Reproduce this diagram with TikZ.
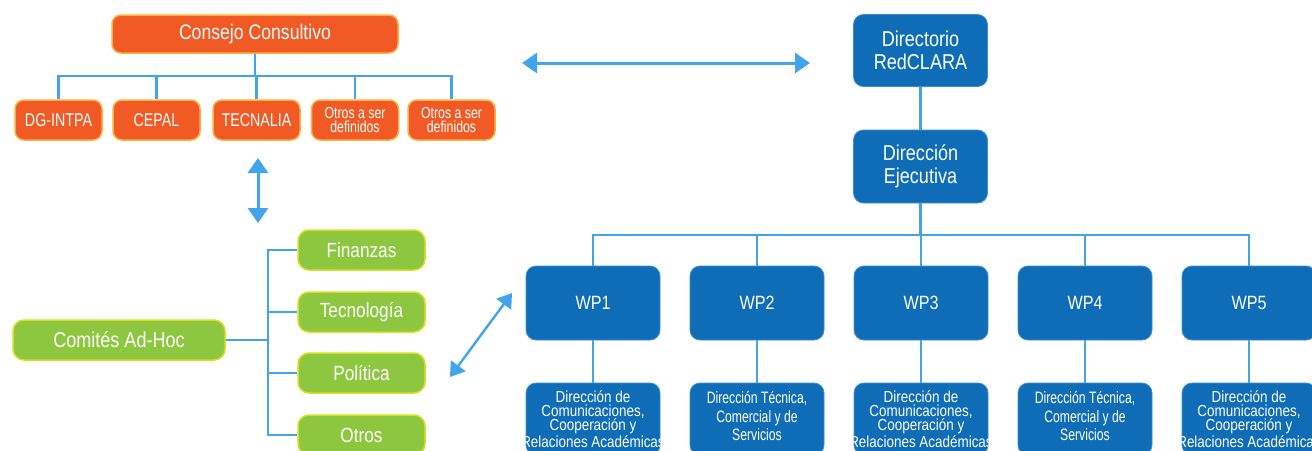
\documentclass[tikz,border=0pt]{standalone}
\usepackage{fontspec}
\setmainfont{Liberation Sans}[FakeStretch=0.84]
\newfontfamily\condf{Liberation Sans}[FakeStretch=0.77]
\newfontfamily\narrowf{Liberation Sans}[FakeStretch=0.74]
\usetikzlibrary{arrows.meta}
\definecolor{orangeF}{HTML}{F15A24}
\definecolor{orangeB}{HTML}{FBB040}
\definecolor{greenF}{HTML}{8DC63F}
\definecolor{greenB}{HTML}{D7DF23}
\definecolor{blueF}{HTML}{0E6DB6}
\definecolor{blueE}{HTML}{3D8FD6}
\definecolor{lineB}{HTML}{42A5EC}
\newcommand{\fsz}[2]{\fontsize{#1}{#2}\selectfont}
\tikzset{
  base/.style={text=white, inner sep=0pt, align=center},
  obox/.style={base, draw=orangeB, line width=1.5pt, fill=orangeF, rounded corners=9pt, minimum width=87pt, minimum height=40pt, font=\condf\fsz{18.5}{20}},
  gbox/.style={base, draw=greenB, line width=1.5pt, fill=greenF, rounded corners=11pt, minimum width=127pt, minimum height=40pt, font=\fsz{20.5}{24}},
  bbox/.style={base, draw=blueE, line width=0.8pt, fill=blueF, rounded corners=10pt, minimum width=134pt, minimum height=73pt, font=\fsz{21.5}{23.3}},
  wbox/.style={bbox, minimum height=74pt, font=\fsz{19.2}{22}},
  dbox/.style={bbox, minimum height=72pt},
  dtext/.style={base, font=\fsz{16}{14.2}},
  dtextb/.style={base, font=\narrowf\fsz{16.5}{18.5}},
  conn/.style={draw=lineB, line width=2.4pt},
  dbl/.style={draw=lineB, line width=3pt, {Triangle[length=15pt,width=20pt]}-{Triangle[length=15pt,width=20pt]}},
  dbls/.style={draw=lineB, line width=2.4pt, {Triangle[length=14pt,width=18pt]}-{Triangle[length=14pt,width=18pt]}}
}
\begin{document}
\begin{tikzpicture}[x=1pt,y=-1pt]
\useasboundingbox (0,0) rectangle (1312,450);
\clip (0,0) rectangle (1312,450);
\fill[white] (0,0) rectangle (1312,450);

% orange group
\node[obox, minimum width=286pt, minimum height=38pt, font=\fsz{21}{24}] (cc) at (255,34) {Consejo Consultivo};
\node[obox] (dg) at (58.5,120) {DG-INTPA};
\node[obox] (cepal) at (156.5,120) {CEPAL};
\node[obox] (tec) at (256.5,120) {TECNALIA};
\node[obox, font=\condf\fsz{16}{13.5}] (o1) at (355,120) {Otros a ser\\definidos};
\node[obox, font=\condf\fsz{16}{13.5}] (o2) at (451.5,120) {Otros a ser\\definidos};
\coordinate (obus) at (0,76);
\foreach \n in {dg,cepal,tec,o1,o2}
  \draw[conn] (cc.south) -- (cc.south |- obus) -| (\n.north);

% green group
\node[gbox, minimum width=212pt, font=\fsz{21.5}{24}] (com) at (119,340) {Comités Ad-Hoc};
\node[gbox] (fin) at (361.5,250) {Finanzas};
\node[gbox] (tecno) at (361.5,312) {Tecnología};
\node[gbox] (pol) at (361.5,373) {Política};
\node[gbox] (otr) at (361.5,435) {Otros};
\coordinate (gbus) at (268,0);
\foreach \n in {fin,tecno,pol,otr}
  \draw[conn] (com.east) -- (gbus |- com.east) |- (\n.west);

% blue group
\node[bbox, minimum height=72pt] (dir) at (920.5,50.5) {Directorio\\RedCLARA};
\node[bbox] (de) at (920.5,166.5) {Dirección\\Ejecutiva};
\draw[conn] (dir.south) -- (de.north);
\coordinate (bbus) at (0,235);
\foreach \i/\x in {1/593,2/757,3/921,4/1085,5/1249}{
  \node[wbox] (wp\i) at (\x,303) {WP\i};
  \node[dbox] (d\i) at (\x,419) {};
}
\node[dtext] (d1t) at (d1.center) {Dirección de\\Comunicaciones,\\Cooperación y\\Relaciones Académicas};
\node[dtextb] (d2t) at ([yshift=3pt]d2.center) {Dirección Técnica,\\Comercial y de\\Servicios};
\node[dtext] (d3t) at (d3.center) {Dirección de\\Comunicaciones,\\Cooperación y\\Relaciones Académicas};
\node[dtextb] (d4t) at ([yshift=3pt]d4.center) {Dirección Técnica,\\Comercial y de\\Servicios};
\node[dtext] (d5t) at (d5.center) {Dirección de\\Comunicaciones,\\Cooperación y\\Relaciones Académicas};
\foreach \i in {1,...,5}{
  \draw[conn] (de.south) -- (de.south |- bbus) -| (wp\i.north);
  \draw[conn] (wp\i.south) -- (d\i.north);
}

% double arrows
\coordinate (ha1) at (522,63);
\coordinate (ha2) at (810,63);
\draw[dbl] (ha1) -- (ha2);
\coordinate (va1) at (258,158);
\coordinate (va2) at (258,223);
\draw[dbl] (va1) -- (va2);
\coordinate (da1) at (450,377);
\coordinate (da2) at (512,293);
\draw[dbls] (da1) -- (da2);
\end{tikzpicture}
\end{document}
